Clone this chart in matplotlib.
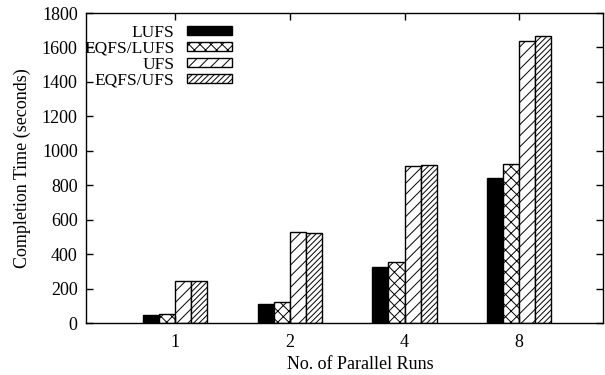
import numpy as np
import matplotlib
matplotlib.use("Agg")
import matplotlib.pyplot as plt

plt.rcParams['font.family'] = ['Liberation Serif', 'DejaVu Serif']
plt.rcParams['hatch.linewidth'] = 0.7
plt.rcParams['font.size'] = 13

# data
runs = ['1', '2', '4', '8']
series = ['LUFS', 'EQFS/LUFS', 'UFS', 'EQFS/UFS']
lufs = [45, 108, 328, 843]
eqfs_lufs = [50, 120, 355, 924]
ufs = [245, 530, 914, 1636]
eqfs_ufs = [245, 523, 918, 1665]

values = [lufs, eqfs_lufs, ufs, eqfs_ufs]
colors = ['black', 'white', 'white', 'white']
hatches = [None, 'xxx', '///', '//////']

fig = plt.figure(figsize=(6.05, 3.75), dpi=100)
ax = fig.add_axes([86 / 605, 52 / 375, 517 / 605, 310 / 375])

x = np.arange(len(runs))
w = 0.14
for i, (vals, name) in enumerate(zip(values, series)):
    ax.bar(x + (i - 1.5) * w, vals, width=w, color=colors[i],
           edgecolor='black', linewidth=1.0, hatch=hatches[i], label=name)

ax.set_xlim(-0.776, 3.73)
ax.set_ylim(0, 1800)
ax.set_xticks(x)
ax.set_xticklabels(runs)
ax.set_yticks(range(0, 1801, 200))
ax.tick_params(direction='in', length=5, width=1, top=True, right=True,
               labelsize=13)
ax.tick_params(axis='x', pad=8)
ax.tick_params(axis='y', pad=6)
for s in ax.spines.values():
    s.set_linewidth(1)

ax.set_ylabel('Completion Time (seconds)', fontsize=13, labelpad=8)
ax.set_xlabel('No. of Parallel Runs', fontsize=13)
ax.xaxis.set_label_coords(0.53, -0.105)

ax.legend(loc='upper left', bbox_to_anchor=(-0.017, 0.985), frameon=False,
          markerfirst=False, handlelength=2.6, handleheight=0.45,
          handletextpad=0.7, labelspacing=0.0, borderaxespad=0,
          fontsize=12.5)

fig.savefig('out.png', dpi=100)
